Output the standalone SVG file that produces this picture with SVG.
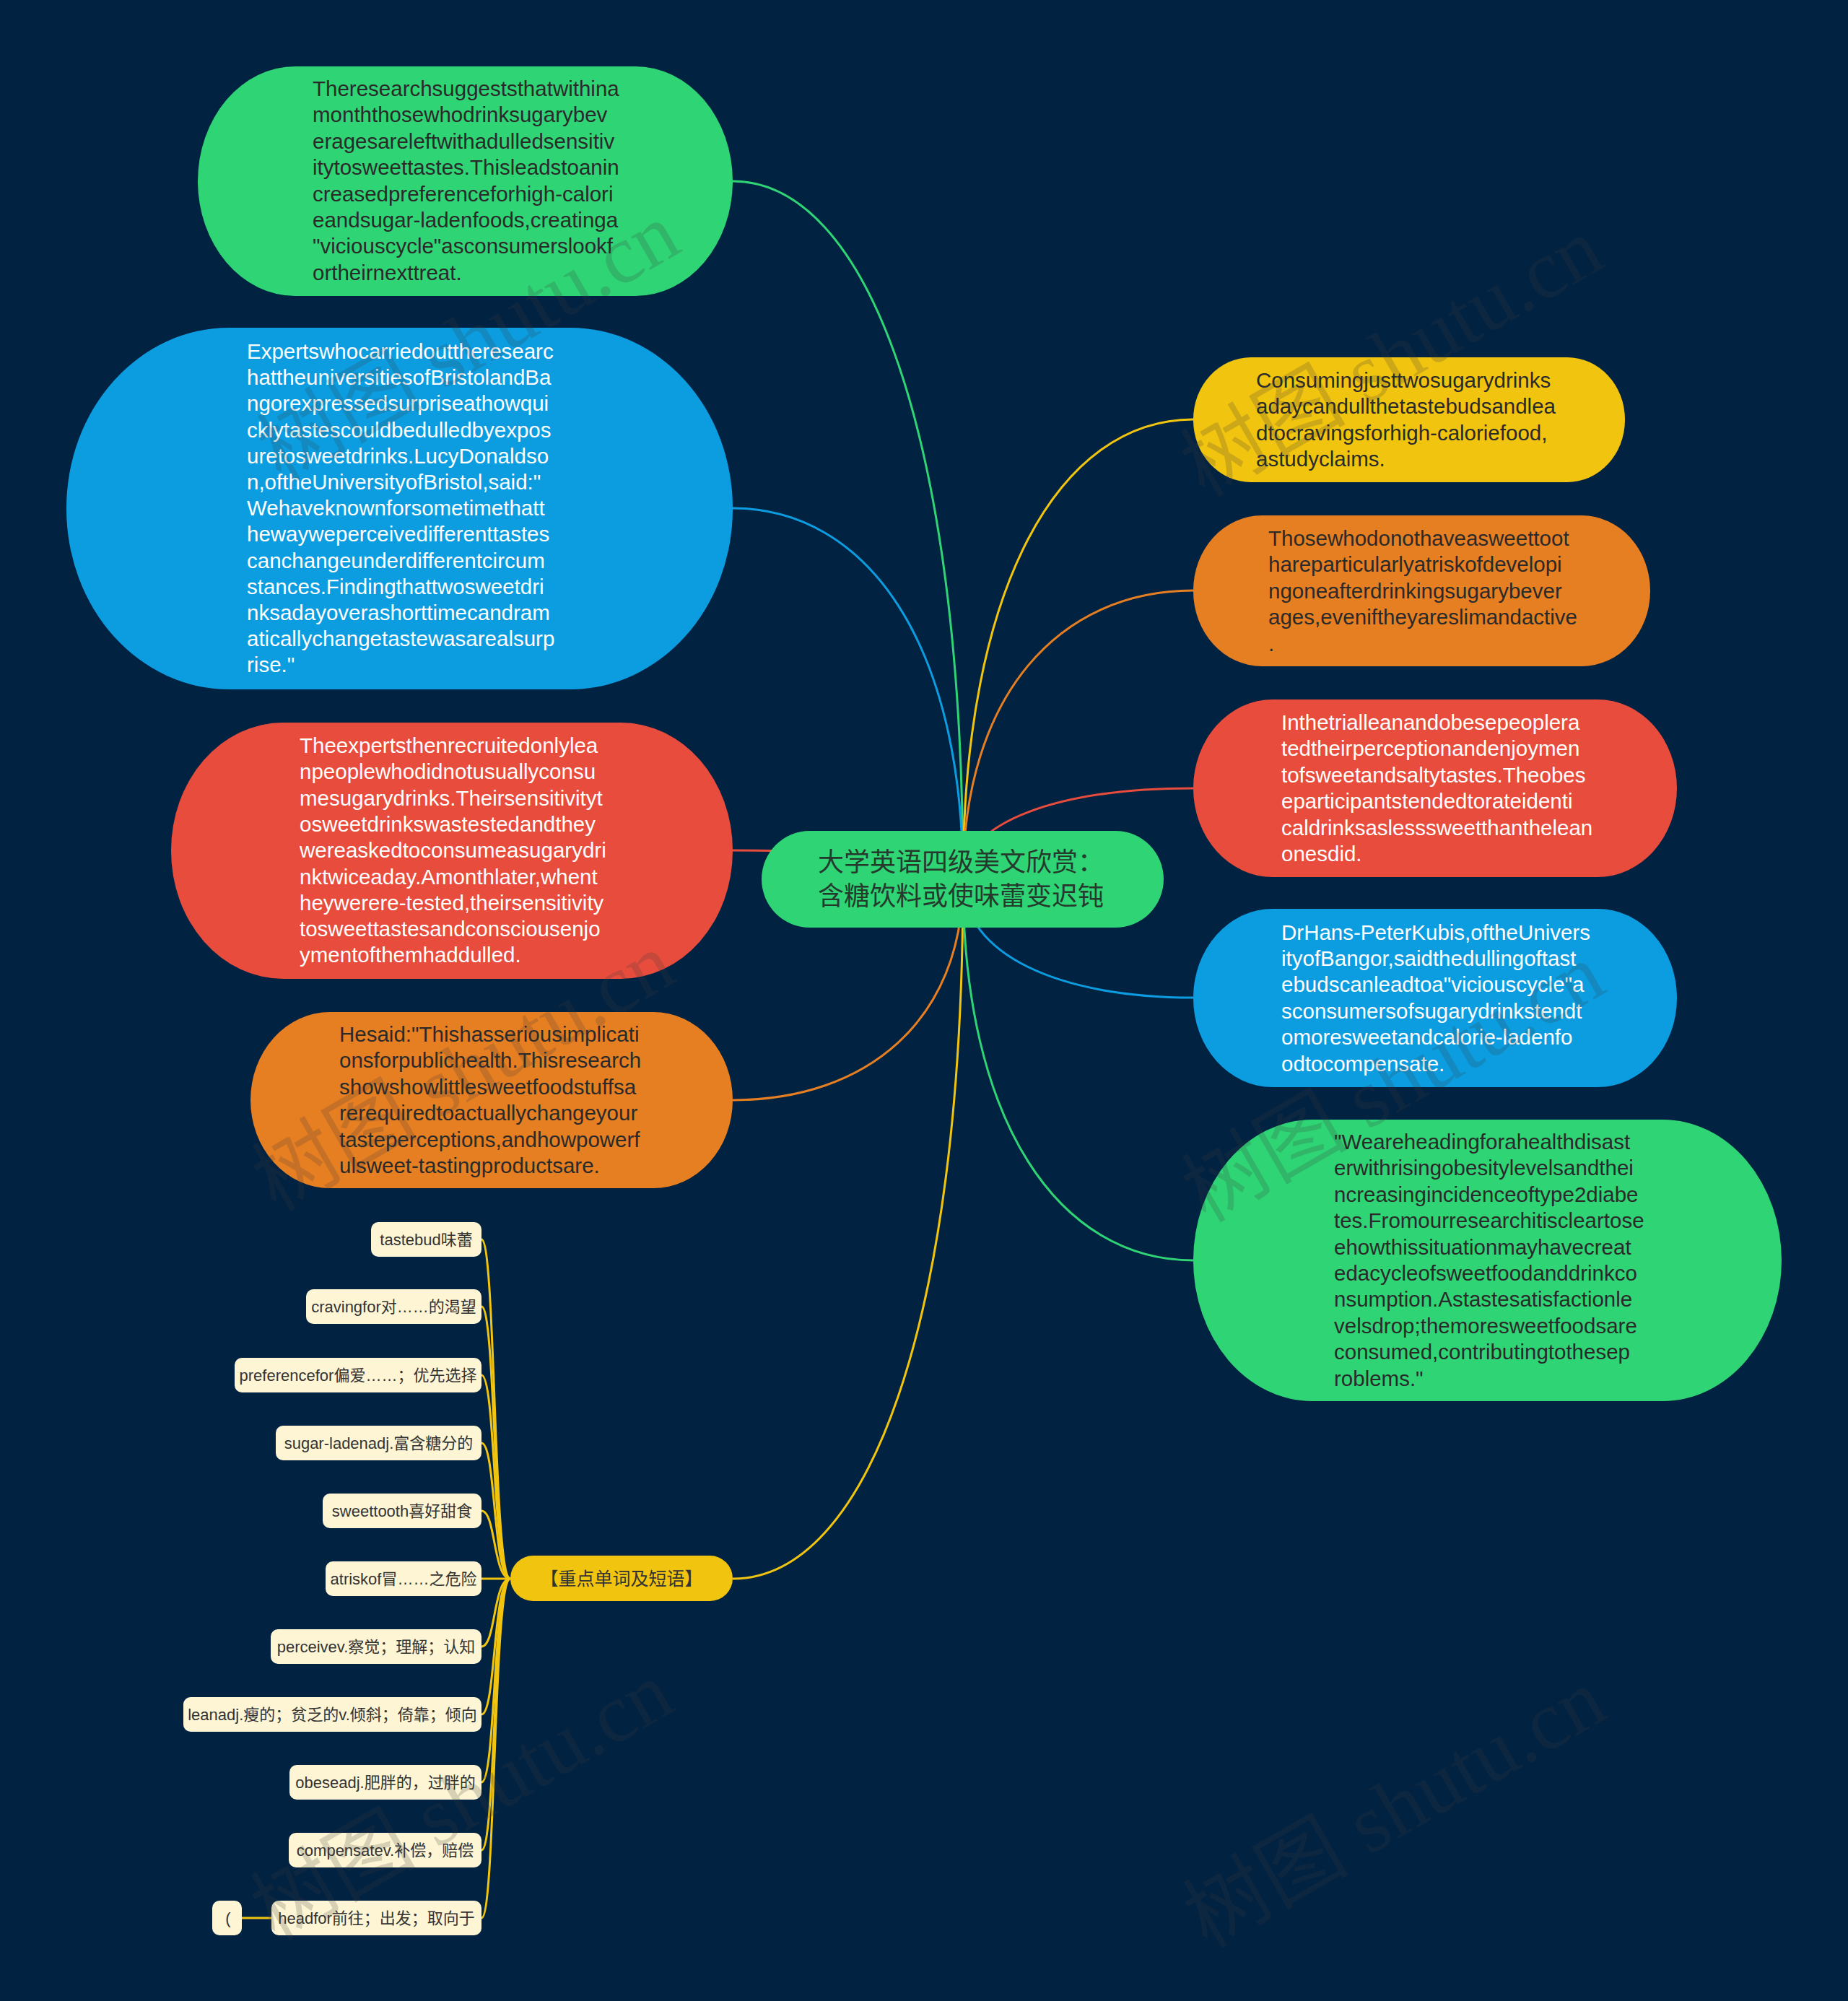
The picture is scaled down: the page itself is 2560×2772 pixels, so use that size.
<svg xmlns="http://www.w3.org/2000/svg" width="2560" height="2772" viewBox="0 0 2560 2772">
<style>
.t{font-family:"Liberation Sans","Noto Sans CJK SC",sans-serif;font-size:29.5px}
.dk{fill:#2a2a2a}
.lt{fill:#ffffff}
.v{font-family:"Liberation Sans","Noto Sans CJK SC",sans-serif;font-size:22px;fill:#333333;text-anchor:middle}
.vb{fill:#fdf5d3}
.c{fill:none;stroke-width:3}
.wm{font-family:"Liberation Serif","Noto Sans CJK SC",serif;font-size:115px;fill:#3a3a3a;fill-opacity:0.2}
</style>
<rect width="2560" height="2772" fill="#022242"/>
<g id="connectors">
<path class="c" stroke="#2fd575" d="M1015 251 C1200 251 1334 600 1334 1219"/>
<path class="c" stroke="#0b9de0" d="M1015 704 C1200 704 1334 890 1334 1219"/>
<path class="c" stroke="#e74c3c" d="M1015 1178 C1200 1178 1334 1193 1334 1219"/>
<path class="c" stroke="#e67e22" d="M1015 1524 C1200 1524 1334 1414 1334 1219"/>
<path class="c" stroke="#f1c40f" d="M1015 2187 C1200 2187 1334 1839 1334 1219"/>
<path class="c" stroke="#f1c40f" d="M1653 581 C1468 581 1334 811 1334 1219"/>
<path class="c" stroke="#e67e22" d="M1653 818 C1468 818 1334 962 1334 1219"/>
<path class="c" stroke="#e74c3c" d="M1653 1092 C1468 1092 1334 1138 1334 1219"/>
<path class="c" stroke="#0b9de0" d="M1653 1382 C1468 1382 1334 1323 1334 1219"/>
<path class="c" stroke="#2fd575" d="M1653 1746 C1468 1746 1334 1556 1334 1219"/>
<g stroke="#f1c40f">
<path class="c" d="M707 2187 C683 2187 687 1717 667 1717"/>
<path class="c" d="M707 2187 C683 2187 687 1810 667 1810"/>
<path class="c" d="M707 2187 C683 2187 687 1905 667 1905"/>
<path class="c" d="M707 2187 C683 2187 687 1999 667 1999"/>
<path class="c" d="M707 2187 C683 2187 687 2093 667 2093"/>
<path class="c" d="M707 2187 C683 2187 687 2187 667 2187"/>
<path class="c" d="M707 2187 C683 2187 687 2281 667 2281"/>
<path class="c" d="M707 2187 C683 2187 687 2375 667 2375"/>
<path class="c" d="M707 2187 C683 2187 687 2469 667 2469"/>
<path class="c" d="M707 2187 C683 2187 687 2563 667 2563"/>
<path class="c" d="M707 2187 C683 2187 687 2657 667 2657"/>
<path class="c" d="M335 2657 L376 2657"/>
</g>
</g>
<g id="center">
<rect x="1055" y="1151" width="557" height="134" rx="67" ry="67" fill="#2fd575"/>
<text font-family="Noto Sans CJK SC, sans-serif" font-size="36" fill="#253a2d"><tspan x="1133" y="1207">大学英语四级美文欣赏：</tspan><tspan x="1133" y="1254">含糖饮料或使味蕾变迟钝</tspan></text>
</g>
<g id="node-l1">
<rect x="274" y="92" width="741" height="318" rx="135" ry="159" fill="#2fd575"/>
<text class="t dk"><tspan x="433" y="133">Theresearchsuggeststhatwithina</tspan><tspan x="433" y="169.4">monththosewhodrinksugarybev</tspan><tspan x="433" y="205.8">eragesareleftwithadulledsensitiv</tspan><tspan x="433" y="242.2">itytosweettastes.Thisleadstoanin</tspan><tspan x="433" y="278.6">creasedpreferenceforhigh-calori</tspan><tspan x="433" y="315">eandsugar-ladenfoods,creatinga</tspan><tspan x="433" y="351.4">"viciouscycle"asconsumerslookf</tspan><tspan x="433" y="387.8">ortheirnexttreat.</tspan></text>
</g>
<g id="node-l2">
<rect x="92" y="454" width="923" height="501" rx="225" ry="250" fill="#0b9de0"/>
<text class="t lt"><tspan x="342" y="497">Expertswhocarriedouttheresearc</tspan><tspan x="342" y="533.2">hattheuniversitiesofBristolandBa</tspan><tspan x="342" y="569.4">ngorexpressedsurpriseathowqui</tspan><tspan x="342" y="605.6">cklytastescouldbedulledbyexpos</tspan><tspan x="342" y="641.8">uretosweetdrinks.LucyDonaldso</tspan><tspan x="342" y="678">n,oftheUniversityofBristol,said:"</tspan><tspan x="342" y="714.2">Wehaveknownforsometimethatt</tspan><tspan x="342" y="750.4">hewayweperceivedifferenttastes</tspan><tspan x="342" y="786.6">canchangeunderdifferentcircum</tspan><tspan x="342" y="822.8">stances.Findingthattwosweetdri</tspan><tspan x="342" y="859">nksadayoverashorttimecandram</tspan><tspan x="342" y="895.2">aticallychangetastewasarealsurp</tspan><tspan x="342" y="931.4">rise."</tspan></text>
</g>
<g id="node-l3">
<rect x="237" y="1001" width="778" height="355" rx="155" ry="177" fill="#e74c3c"/>
<text class="t lt"><tspan x="415" y="1043">Theexpertsthenrecruitedonlylea</tspan><tspan x="415" y="1079.3">npeoplewhodidnotusuallyconsu</tspan><tspan x="415" y="1115.6">mesugarydrinks.Theirsensitivityt</tspan><tspan x="415" y="1151.9">osweetdrinkswastestedandthey</tspan><tspan x="415" y="1188.2">wereaskedtoconsumeasugarydri</tspan><tspan x="415" y="1224.5">nktwiceaday.Amonthlater,whent</tspan><tspan x="415" y="1260.8">heywerere-tested,theirsensitivity</tspan><tspan x="415" y="1297.1">tosweettastesandconsciousenjo</tspan><tspan x="415" y="1333.4">ymentofthemhaddulled.</tspan></text>
</g>
<g id="node-l4">
<rect x="347" y="1402" width="668" height="244" rx="110" ry="122" fill="#e67e22"/>
<text class="t dk"><tspan x="470" y="1443">Hesaid:"Thishasseriousimplicati</tspan><tspan x="470" y="1479.4">onsforpublichealth.Thisresearch</tspan><tspan x="470" y="1515.8">showshowlittlesweetfoodstuffsa</tspan><tspan x="470" y="1552.2">rerequiredtoactuallychangeyour</tspan><tspan x="470" y="1588.6">tasteperceptions,andhowpowerf</tspan><tspan x="470" y="1625">ulsweet-tastingproductsare.</tspan></text>
</g>
<g id="node-r1">
<rect x="1653" y="495" width="598" height="173" rx="80" ry="86" fill="#f1c40f"/>
<text class="t dk"><tspan x="1740" y="537">Consumingjusttwosugarydrinks</tspan><tspan x="1740" y="573.4">adaycandullthetastebudsandlea</tspan><tspan x="1740" y="609.8">dtocravingsforhigh-caloriefood,</tspan><tspan x="1740" y="646.2">astudyclaims.</tspan></text>
</g>
<g id="node-r2">
<rect x="1653" y="714" width="633" height="209" rx="95" ry="104" fill="#e67e22"/>
<text class="t dk"><tspan x="1757" y="756">Thosewhodonothaveasweettoot</tspan><tspan x="1757" y="792.4">hareparticularlyatriskofdevelopi</tspan><tspan x="1757" y="828.8">ngoneafterdrinkingsugarybever</tspan><tspan x="1757" y="865.2">ages,eveniftheyareslimandactive</tspan><tspan x="1757" y="901.6">.</tspan></text>
</g>
<g id="node-r3">
<rect x="1653" y="969" width="670" height="246" rx="110" ry="123" fill="#e74c3c"/>
<text class="t lt"><tspan x="1775" y="1011">Inthetrialleanandobesepeoplera</tspan><tspan x="1775" y="1047.4">tedtheirperceptionandenjoymen</tspan><tspan x="1775" y="1083.8">tofsweetandsaltytastes.Theobes</tspan><tspan x="1775" y="1120.2">eparticipantstendedtorateidenti</tspan><tspan x="1775" y="1156.6">caldrinksaslesssweetthanthelean</tspan><tspan x="1775" y="1193">onesdid.</tspan></text>
</g>
<g id="node-r4">
<rect x="1653" y="1259" width="670" height="247" rx="110" ry="123" fill="#0b9de0"/>
<text class="t lt"><tspan x="1775" y="1301.5">DrHans-PeterKubis,oftheUnivers</tspan><tspan x="1775" y="1337.9">ityofBangor,saidthedullingoftast</tspan><tspan x="1775" y="1374.3">ebudscanleadtoa"viciouscycle"a</tspan><tspan x="1775" y="1410.7">sconsumersofsugarydrinkstendt</tspan><tspan x="1775" y="1447.1">omoresweetandcalorie-ladenfo</tspan><tspan x="1775" y="1483.5">odtocompensate.</tspan></text>
</g>
<g id="node-r5">
<rect x="1653" y="1551" width="815" height="390" rx="165" ry="195" fill="#2fd575"/>
<text class="t dk"><tspan x="1848" y="1592">"Weareheadingforahealthdisast</tspan><tspan x="1848" y="1628.4">erwithrisingobesitylevelsandthei</tspan><tspan x="1848" y="1664.8">ncreasingincidenceoftype2diabe</tspan><tspan x="1848" y="1701.2">tes.Fromourresearchitiscleartose</tspan><tspan x="1848" y="1737.6">ehowthissituationmayhavecreat</tspan><tspan x="1848" y="1774">edacycleofsweetfoodanddrinkco</tspan><tspan x="1848" y="1810.4">nsumption.Astastesatisfactionle</tspan><tspan x="1848" y="1846.8">velsdrop;themoresweetfoodsare</tspan><tspan x="1848" y="1883.2">consumed,contributingtothesep</tspan><tspan x="1848" y="1919.6">roblems."</tspan></text>
</g>
<g id="node-vocab">
<rect x="707" y="2155" width="308" height="63" rx="31.5" ry="31.5" fill="#f1c40f"/>
<text x="861" y="2196" font-family="Noto Sans CJK SC, sans-serif" font-size="25" fill="#333333" text-anchor="middle">【重点单词及短语】</text>
</g>
<g id="v1"><rect class="vb" x="514" y="1693" width="153" height="48" rx="10"/><text class="v" x="590.5" y="1725">tastebud味蕾</text></g>
<g id="v2"><rect class="vb" x="424" y="1786" width="243" height="48" rx="10"/><text class="v" x="545.5" y="1818">cravingfor对……的渴望</text></g>
<g id="v3"><rect class="vb" x="325" y="1881" width="342" height="48" rx="10"/><text class="v" x="496" y="1913">preferencefor偏爱……；优先选择</text></g>
<g id="v4"><rect class="vb" x="382" y="1975" width="285" height="48" rx="10"/><text class="v" x="524.5" y="2007">sugar-ladenadj.富含糖分的</text></g>
<g id="v5"><rect class="vb" x="447" y="2069" width="220" height="48" rx="10"/><text class="v" x="557" y="2101">sweettooth喜好甜食</text></g>
<g id="v6"><rect class="vb" x="451" y="2163" width="216" height="48" rx="10"/><text class="v" x="559" y="2195">atriskof冒……之危险</text></g>
<g id="v7"><rect class="vb" x="375" y="2257" width="292" height="48" rx="10"/><text class="v" x="521" y="2289">perceivev.察觉；理解；认知</text></g>
<g id="v8"><rect class="vb" x="254" y="2351" width="413" height="48" rx="10"/><text class="v" x="460.5" y="2383">leanadj.瘦的；贫乏的v.倾斜；倚靠；倾向</text></g>
<g id="v9"><rect class="vb" x="401" y="2445" width="266" height="48" rx="10"/><text class="v" x="534" y="2477">obeseadj.肥胖的，过胖的</text></g>
<g id="v10"><rect class="vb" x="400" y="2539" width="267" height="48" rx="10"/><text class="v" x="533.5" y="2571">compensatev.补偿，赔偿</text></g>
<g id="v11"><rect class="vb" x="376" y="2633" width="291" height="48" rx="10"/><text class="v" x="521.5" y="2665">headfor前往；出发；取向于</text></g>
<g id="v12"><rect class="vb" x="294" y="2633" width="41" height="48" rx="10"/><text class="v" x="316" y="2665">(</text></g>
<g id="watermarks">
<text class="wm" transform="translate(389 669) rotate(-30)">树图 shutu.cn</text>
<text class="wm" transform="translate(382 1680) rotate(-30)">树图 shutu.cn</text>
<text class="wm" transform="translate(380 2690) rotate(-30)">树图 shutu.cn</text>
<text class="wm" transform="translate(1668 690) rotate(-30)">树图 shutu.cn</text>
<text class="wm" transform="translate(1670 1695) rotate(-30)">树图 shutu.cn</text>
<text class="wm" transform="translate(1672 2700) rotate(-30)">树图 shutu.cn</text>
</g>
</svg>
